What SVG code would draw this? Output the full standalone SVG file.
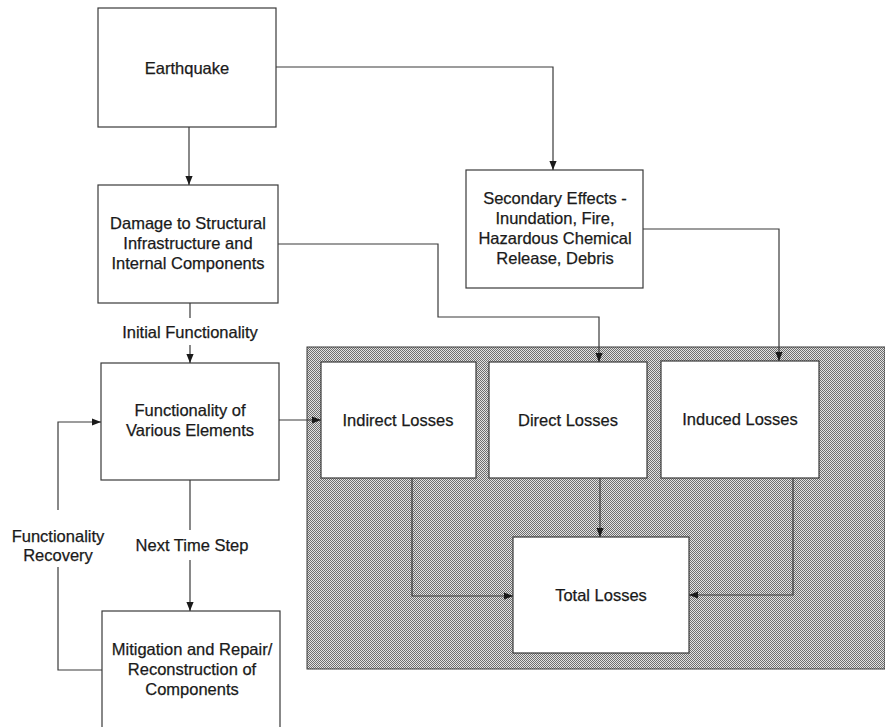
<svg xmlns="http://www.w3.org/2000/svg" width="885" height="727" viewBox="0 0 885 727">
<style>
.box{fill:#fff;stroke:#3a3a3a;stroke-width:1.2}
.t{font-family:"Liberation Sans",Arial,sans-serif;font-size:16.5px;fill:#1a1a1a;stroke:#1a1a1a;stroke-width:0.25;text-anchor:middle}
.c{fill:none;stroke:#3a3a3a;stroke-width:1.2}
</style>
<defs>
<pattern id="dots" width="2" height="2" patternUnits="userSpaceOnUse">
<rect width="2" height="2" fill="#e2e2e2"/>
<rect width="1" height="1" fill="#6e6e6e"/>
<rect x="1" y="1" width="1" height="1" fill="#6e6e6e"/>
</pattern>
<marker id="ah" viewBox="0 0 10 10" refX="10" refY="5" markerWidth="9" markerHeight="9" markerUnits="userSpaceOnUse" orient="auto">
<path d="M0,1 L10,5 L0,9 Z" fill="#1a1a1a"/>
</marker>
</defs>
<rect width="885" height="727" fill="#fff"/>
<g id="loss-area">
<rect x="307" y="347" width="578" height="322" fill="url(#dots)" stroke="#3a3a3a" stroke-width="1"/>
</g>
<g id="earthquake">
<rect class="box" x="98" y="8" width="178" height="119"/>
<text class="t" x="187" y="74">Earthquake</text>
</g>
<g id="damage">
<rect class="box" x="98" y="185" width="180" height="118"/>
<text class="t" x="188" y="229">Damage to Structural</text>
<text class="t" x="188" y="249">Infrastructure and</text>
<text class="t" x="188" y="269">Internal Components</text>
</g>
<g id="secondary">
<rect class="box" x="466" y="170" width="177" height="118"/>
<text class="t" x="555" y="204">Secondary Effects -</text>
<text class="t" x="555" y="224">Inundation, Fire,</text>
<text class="t" x="555" y="244">Hazardous Chemical</text>
<text class="t" x="555" y="264">Release, Debris</text>
</g>
<g id="functionality">
<rect class="box" x="101" y="363" width="178" height="117"/>
<text class="t" x="190" y="416">Functionality of</text>
<text class="t" x="190" y="436">Various Elements</text>
</g>
<g id="mitigation">
<rect class="box" x="102" y="611" width="178" height="130"/>
<text class="t" x="192" y="655">Mitigation and Repair/</text>
<text class="t" x="192" y="675">Reconstruction of</text>
<text class="t" x="192" y="695">Components</text>
</g>
<g id="indirect">
<rect class="box" x="321" y="362" width="155" height="116"/>
<text class="t" x="398" y="426">Indirect Losses</text>
</g>
<g id="direct">
<rect class="box" x="489" y="362" width="158" height="116"/>
<text class="t" x="568" y="426">Direct Losses</text>
</g>
<g id="induced">
<rect class="box" x="661" y="361" width="158" height="117"/>
<text class="t" x="740" y="425">Induced Losses</text>
</g>
<g id="total">
<rect class="box" x="513" y="537" width="176" height="116"/>
<text class="t" x="601" y="601">Total Losses</text>
</g>
<g id="connectors">
<path class="c" d="M189,127 V185" marker-end="url(#ah)"/>
<path class="c" d="M276,67 H553 V170" marker-end="url(#ah)"/>
<path class="c" d="M278,244 H438 V317 H599 V362" marker-end="url(#ah)"/>
<path class="c" d="M643,229 H779 V361" marker-end="url(#ah)"/>
<path class="c" d="M190,303 V318"/>
<path class="c" d="M190,345 V363" marker-end="url(#ah)"/>
<path class="c" d="M279,420 H321" marker-end="url(#ah)"/>
<path class="c" d="M190,480 V530"/>
<path class="c" d="M190,560 V611" marker-end="url(#ah)"/>
<path class="c" d="M102,670 H58 V567"/>
<path class="c" d="M58,510 V422 H101" marker-end="url(#ah)"/>
<path class="c" d="M412,478 V596 H513" marker-end="url(#ah)"/>
<path class="c" d="M600,478 V537" marker-end="url(#ah)"/>
<path class="c" d="M793,478 V595 H689" marker-end="url(#ah)"/>
<text class="t" x="190" y="338">Initial Functionality</text>
<text class="t" x="192" y="551">Next Time Step</text>
<text class="t" x="58" y="542">Functionality</text>
<text class="t" x="58" y="561">Recovery</text>
</g>
</svg>
